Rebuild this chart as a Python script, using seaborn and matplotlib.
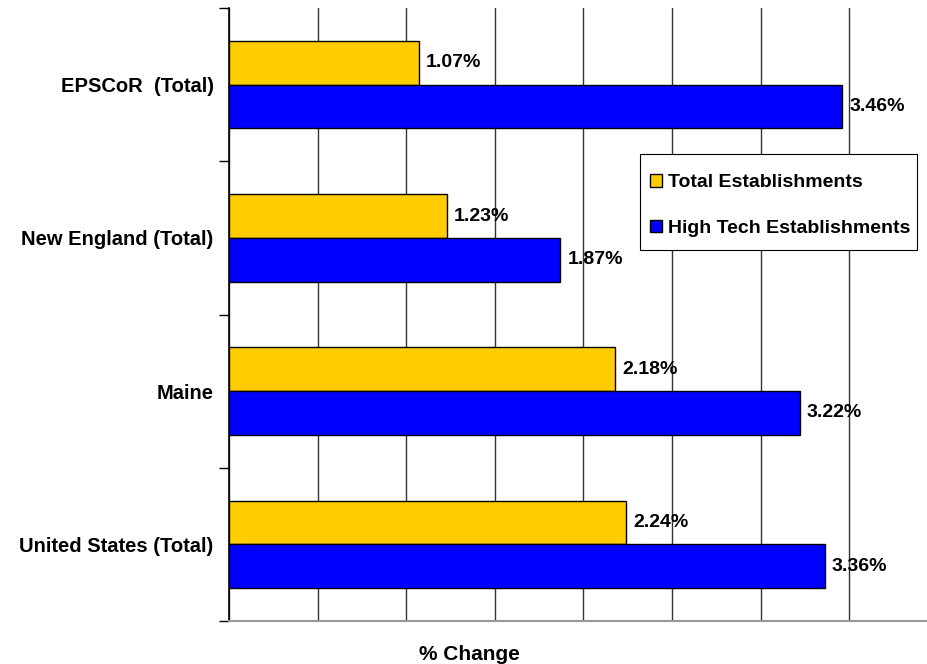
import matplotlib
matplotlib.use("Agg")
import matplotlib.pyplot as plt
import seaborn as sns
import pandas as pd
import numpy as np
from matplotlib.patches import Patch, Rectangle

# values (% change)
regions = ["EPSCoR  (Total)", "New England (Total)", "Maine", "United States (Total)"]
total_est = [1.07, 1.23, 2.18, 2.24]
high_tech_est = [3.46, 1.87, 3.22, 3.36]
series_names = ["Total Establishments", "High Tech Establishments"]
colors = ["#FFCC00", "#0000FF"]

df = pd.DataFrame({
    "region": regions * 2,
    "series": [series_names[0]] * len(regions) + [series_names[1]] * len(regions),
    "pct": total_est + high_tech_est,
})

sns.set_style("white")
plt.rcParams["font.family"] = "sans-serif"
plt.rcParams["font.sans-serif"] = ["Liberation Sans", "DejaVu Sans"]
plt.rcParams["text.color"] = "black"
plt.rcParams["ytick.labelcolor"] = "black"

fig = plt.figure(figsize=(9.28, 6.64), dpi=100)
ax = fig.add_axes([229 / 928, 1 - 621 / 664, (938 - 229) / 928, (621 - 8) / 664])

sns.barplot(data=df, y="region", x="pct", hue="series", palette=colors,
            order=regions, hue_order=series_names, orient="h", width=0.57,
            edgecolor="black", linewidth=1, saturation=1, legend=False, ax=ax)

for cont in ax.containers:
    ax.bar_label(cont, fmt="{:.2f}%", padding=5, fontsize=14, fontweight="bold",
                 color="black")

ax.set_xlim(0, 4)
ax.set_ylim(3.5, -0.5)
ax.set_xticks(np.arange(0, 4.01, 0.5))
ax.set_xticklabels([])
ax.tick_params(axis="x", length=0)
ax.grid(axis="x", color="#333333", linewidth=1)
ax.set_axisbelow(True)

ax.set_yticks(range(len(regions)))
ax.set_yticklabels(regions, fontsize=14.5, fontweight="bold", color="black")
ax.tick_params(axis="y", which="major", length=0, pad=11)
ax.set_yticks(np.arange(-0.5, 3.6, 1), minor=True)
ax.tick_params(axis="y", which="minor", length=7, width=1, color="black", left=True)

for side in ["top", "right"]:
    ax.spines[side].set_visible(False)
ax.spines["left"].set_color("black")
ax.spines["left"].set_linewidth(1.2)
ax.spines["bottom"].set_color("#999999")
ax.spines["bottom"].set_linewidth(1.5)

ax.set_xlabel("")
ax.set_ylabel("")
fig.text(469 / 928, 1 - 655 / 664, "% Change", ha="center", va="center",
         fontsize=15, fontweight="bold", color="black")

# legend box drawn separately so its padding can match the original
fig.add_artist(Rectangle((640 / 928, 1 - 250 / 664), 277 / 928, 96 / 664,
                         transform=fig.transFigure, facecolor="white",
                         edgecolor="black", linewidth=0.8, zorder=3))
handles = [Patch(facecolor=c, edgecolor="black", label=n) for c, n in zip(colors, series_names)]
leg = fig.legend(handles=handles, loc="center left",
                 bbox_to_anchor=(650 / 928, 1 - 205.5 / 664), frameon=False,
                 prop={"weight": "bold", "size": 14}, handlelength=0.62,
                 handleheight=0.62, handletextpad=0.3, labelspacing=1.45,
                 borderpad=0, borderaxespad=0)
leg.set_zorder(5)
for t in leg.get_texts():
    t.set_color("black")

fig.savefig("out.png", dpi=100)
plt.close()
